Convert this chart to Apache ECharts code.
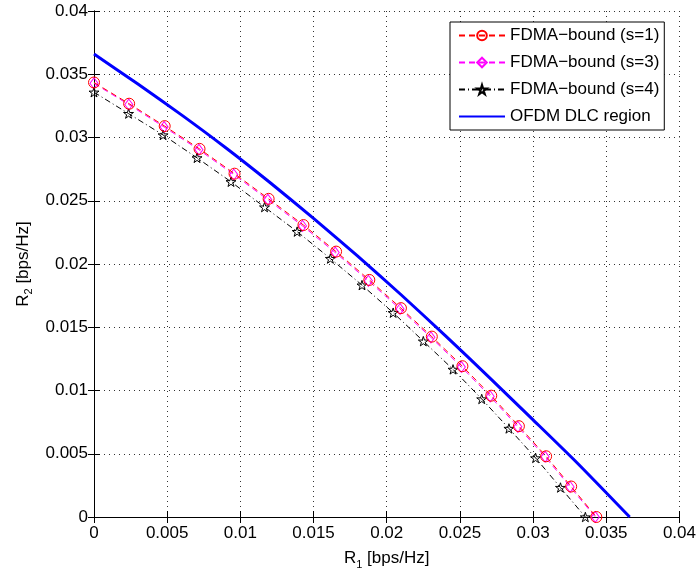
<!DOCTYPE html>
<html><head><meta charset="utf-8">
<script src="https://cdn.jsdelivr.net/npm/echarts@6/dist/echarts.min.js"></script>
<style>html,body{margin:0;padding:0;background:#fff}#c{width:699px;height:575px}</style>
</head><body><div id="c"></div>
<script>
const tickLabels = ['0','0.005','0.01','0.015','0.02','0.025','0.03','0.035','0.04'];
const seriesNames = ['FDMA\u2212bound (s=1)','FDMA\u2212bound (s=3)','FDMA\u2212bound (s=4)','OFDM DLC region'];
const r1_s1 = [0, 0.0024, 0.00483, 0.00721, 0.0096, 0.01193, 0.01431, 0.01654, 0.01881, 0.02097, 0.02308, 0.02517, 0.02714, 0.02903, 0.03089, 0.0326, 0.03432];
const r2_s1 = [0.03435, 0.03267, 0.0309, 0.0291, 0.02714, 0.02515, 0.02308, 0.02098, 0.01874, 0.01651, 0.01426, 0.01192, 0.00959, 0.00718, 0.0048, 0.00241, 0];
const r1_s3 = [0, 0.00238, 0.00479, 0.00717, 0.00955, 0.01188, 0.01425, 0.01648, 0.01875, 0.02091, 0.02302, 0.0251, 0.02707, 0.02896, 0.03082, 0.03253, 0.03425];
const r2_s3 = [0.03428, 0.0326, 0.03083, 0.02903, 0.02707, 0.02508, 0.02301, 0.02091, 0.01867, 0.01644, 0.0142, 0.01186, 0.00953, 0.00713, 0.00476, 0.00238, 0];
const r1_s4 = [0, 0.00236, 0.00472, 0.00704, 0.00936, 0.01165, 0.01388, 0.01615, 0.01831, 0.02044, 0.0225, 0.02453, 0.02649, 0.02835, 0.03017, 0.03187, 0.03357];
const r2_s4 = [0.03358, 0.03189, 0.0302, 0.02839, 0.0265, 0.0245, 0.02256, 0.02043, 0.01833, 0.01615, 0.0139, 0.01167, 0.00933, 0.007, 0.00467, 0.00233, 0];
const r1_dlc = [0, 0.003, 0.006, 0.009, 0.012, 0.015, 0.018, 0.021, 0.024, 0.027, 0.030, 0.033, 0.0366];
const r2_dlc = [0.0366, 0.03423, 0.03177, 0.02919, 0.02646, 0.02361, 0.02064, 0.01755, 0.01434, 0.01104, 0.00768, 0.00429, 0];

const zip = (a, b) => a.map((v, i) => [v, b[i]]);
const STAR = 'path://M50,0 L61,35 L98,35 L68,57 L79,91 L50,70 L21,91 L32,57 L2,35 L39,35 Z';
const FONT = '"Liberation Sans", Arial, Helvetica, sans-serif';
const FS = 17;
const fmt = v => tickLabels[Math.round(v / 0.005)] ?? '';

const chart = echarts.init(document.getElementById('c'), null, {renderer: 'canvas'});
const axisCommon = {type: 'value', min: 0, max: 0.04, interval: 0.005};
const nameRich = {r: {fontSize: FS, color: '#000', fontFamily: FONT}, s: {fontSize: 11, color: '#000', fontFamily: FONT, padding: [12, 0, 0, 0]}};
chart.setOption({
  animation: false,
  backgroundColor: '#fff',
  textStyle: {fontFamily: FONT},
  grid: {left: 94, right: 18, top: 11, bottom: 50, show: false},
  legend: {
    orient: 'vertical', left: 450, top: 22,
    padding: [5, 5, 5, 8],
    backgroundColor: '#fff', borderColor: '#000', borderWidth: 1,
    itemWidth: 46, itemHeight: 12, itemGap: 10,
    textStyle: {fontSize: FS, color: '#000', fontFamily: FONT},
    data: [
      {name: seriesNames[0]},
      {name: seriesNames[1]},
      {name: seriesNames[2]},
      {name: seriesNames[3], itemStyle: {opacity: 0}}
    ]
  },
  xAxis: [
    Object.assign({}, axisCommon, {
      position: 'bottom',
      name: '{r|R}{s|1}{r| [bps/Hz]}', nameLocation: 'middle', nameGap: 30,
      nameTextStyle: {rich: nameRich},
      axisLine: {show: true, lineStyle: {color: '#000', width: 1}},
      axisTick: {show: true, inside: true, length: 6, lineStyle: {color: '#000'}},
      axisLabel: {fontSize: FS, color: '#000', margin: 8, formatter: fmt, fontFamily: FONT},
      splitLine: {show: true, lineStyle: {color: '#333', type: [1, 4], width: 1}}
    }),
    Object.assign({}, axisCommon, {
      position: 'top',
      axisLine: {show: true, lineStyle: {color: '#000', width: 1}},
      axisTick: {show: true, inside: true, length: 6, lineStyle: {color: '#000'}},
      axisLabel: {show: false}, splitLine: {show: false}
    })
  ],
  yAxis: [
    Object.assign({}, axisCommon, {
      position: 'left',
      name: '{r|R}{s|2}{r| [bps/Hz]}', nameLocation: 'middle', nameGap: 55, nameRotate: 90,
      nameTextStyle: {rich: nameRich},
      axisLine: {show: true, lineStyle: {color: '#000', width: 1}},
      axisTick: {show: true, inside: true, length: 6, lineStyle: {color: '#000'}},
      axisLabel: {fontSize: FS, color: '#000', margin: 6, formatter: fmt, fontFamily: FONT},
      splitLine: {show: true, lineStyle: {color: '#333', type: [1, 4], width: 1}}
    }),
    Object.assign({}, axisCommon, {
      position: 'right',
      axisLine: {show: true, lineStyle: {color: '#000', width: 1}},
      axisTick: {show: true, inside: true, length: 6, lineStyle: {color: '#000'}},
      axisLabel: {show: false}, splitLine: {show: false}
    })
  ],
  series: [
    {
      name: seriesNames[0], type: 'line', data: zip(r1_s1, r2_s1),
      symbol: 'circle', symbolSize: 11, showAllSymbol: true,
      itemStyle: {color: 'rgba(255,255,255,0)', borderColor: '#ff0000', borderWidth: 1},
      lineStyle: {color: '#ff0000', width: 1, type: [6, 4]}, z: 3
    },
    {
      name: seriesNames[1], type: 'line', data: zip(r1_s3, r2_s3),
      symbol: 'diamond', symbolSize: [8, 11], showAllSymbol: true,
      itemStyle: {color: 'rgba(255,255,255,0)', borderColor: '#ff00ff', borderWidth: 1},
      lineStyle: {color: '#ff00ff', width: 1, type: [6, 4]}, z: 2
    },
    {
      name: seriesNames[2], type: 'line', data: zip(r1_s4, r2_s4),
      symbol: STAR, symbolSize: 10, symbolKeepAspect: true, showAllSymbol: true,
      itemStyle: {color: 'rgba(255,255,255,0)', borderColor: '#000', borderWidth: 1},
      lineStyle: {color: '#000', width: 1, type: [6, 3, 1, 3]}, z: 2
    },
    {
      name: seriesNames[3], type: 'line', data: zip(r1_dlc, r2_dlc),
      symbol: 'none', smooth: 0.2,
      itemStyle: {color: '#0000ff'},
      lineStyle: {color: '#0000ff', width: 3}, z: 4
    }
  ]
});
</script></body></html>
